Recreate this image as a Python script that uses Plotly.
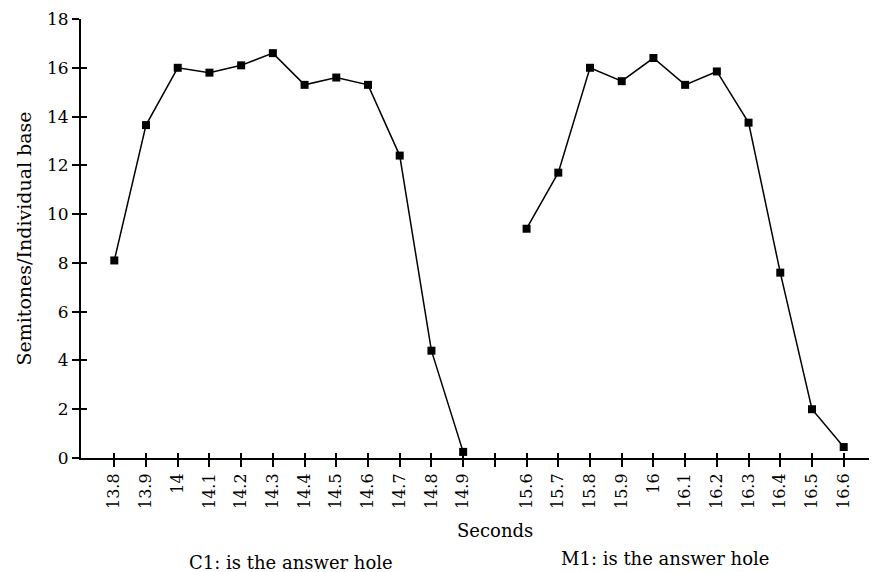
import plotly.graph_objects as go

categories = ["13.8", "13.9", "14", "14.1", "14.2", "14.3", "14.4", "14.5", "14.6", "14.7", "14.8", "14.9",
              "",
              "15.6", "15.7", "15.8", "15.9", "16", "16.1", "16.2", "16.3", "16.4", "16.5", "16.6"]
c1_values = [8.1, 13.65, 16.0, 15.8, 16.1, 16.6, 15.3, 15.6, 15.3, 12.4, 4.4, 0.25]
m1_values = [9.4, 11.7, 16.0, 15.45, 16.4, 15.3, 15.85, 13.75, 7.6, 2.0, 0.45]
y_ticks = [0, 2, 4, 6, 8, 10, 12, 14, 16, 18]

idx = list(range(len(categories)))
c1_x = idx[:len(c1_values)]
m1_x = idx[13:13 + len(m1_values)]

font_family = "DejaVu Serif, Liberation Serif, serif"
x_range = [-1.05, 24.05]
y_range = [0, 18]

fig = go.Figure()
for xs, ys in [(c1_x, c1_values), (m1_x, m1_values)]:
    fig.add_trace(go.Scatter(
        x=xs, y=ys, mode="lines+markers",
        line=dict(color="black", width=1.5),
        marker=dict(symbol="square", size=8, color="black"),
        cliponaxis=False, showlegend=False,
    ))
# invisible trace to activate overlay axes (inner half of crossing ticks)
fig.add_trace(go.Scatter(x=[idx[0]], y=[y_ticks[0]], xaxis="x2", yaxis="y2",
                         mode="markers", marker=dict(opacity=0), showlegend=False,
                         hoverinfo="skip"))

# page has an 8px body margin, so the figure is drawn 8px smaller and offset
plot_w = 796
plot_h = 439

fig.update_layout(
    width=869, height=564,
    margin=dict(l=73, r=0, t=11, b=114, autoexpand=False),
    paper_bgcolor="white", plot_bgcolor="white",
    font=dict(family=font_family, color="black", size=16),
    xaxis=dict(
        range=x_range, tickvals=idx, ticktext=categories, automargin=False,
        tickangle=-90, showgrid=False, zeroline=False,
        showline=True, linecolor="black", linewidth=2,
        ticks="outside", ticklen=7, tickwidth=1.5, tickcolor="black",
        tickfont=dict(size=16, family=font_family),
    ),
    yaxis=dict(
        range=y_range, tickvals=y_ticks, showgrid=False, zeroline=False, automargin=False,
        showline=True, linecolor="black", linewidth=2,
        ticks="outside", ticklen=7, tickwidth=1.5, tickcolor="black",
        tickfont=dict(size=17, family=font_family),
        title=dict(text="Semitones/Individual base", font=dict(size=19, family=font_family), standoff=10),
    ),
    xaxis2=dict(range=x_range, overlaying="x", anchor="y", tickvals=idx, showticklabels=False,
                ticks="inside", ticklen=5, tickwidth=1.5, tickcolor="black",
                showgrid=False, zeroline=False, showline=False, automargin=False),
    yaxis2=dict(range=y_range, overlaying="y", anchor="x", tickvals=y_ticks, showticklabels=False,
                ticks="inside", ticklen=6, tickwidth=1.5, tickcolor="black",
                showgrid=False, zeroline=False, showline=False, automargin=False),
    annotations=[
        dict(text="Seconds", xref="paper", yref="paper",
             x=(495 - 81) / plot_w, y=-72 / plot_h, showarrow=False,
             font=dict(size=18, family=font_family), xanchor="center", yanchor="middle"),
        dict(text="C1: is the answer hole", xref="paper", yref="paper",
             x=(291 - 81) / plot_w, y=-104 / plot_h, showarrow=False,
             font=dict(size=18, family=font_family), xanchor="center", yanchor="middle"),
        dict(text="M1: is the answer hole", xref="paper", yref="paper",
             x=(665 - 81) / plot_w, y=-100 / plot_h, showarrow=False,
             font=dict(size=18, family=font_family), xanchor="center", yanchor="middle"),
    ],
)

fig.write_html("out.html")
